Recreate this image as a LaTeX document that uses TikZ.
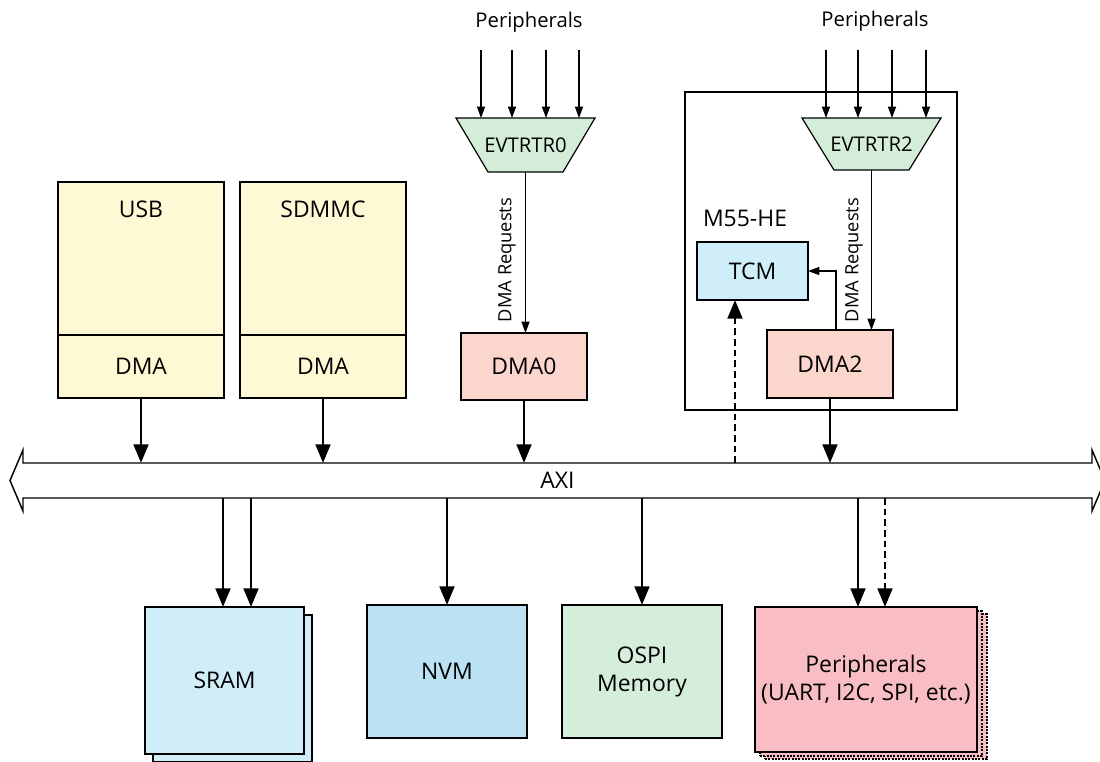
\documentclass[tikz,border=0pt]{standalone}
\usepackage{fontspec}
\setmainfont{Open Sans}
\usetikzlibrary{arrows.meta}
\pgfdeclarelayer{back}
\pgfdeclarelayer{paper}
\pgfsetlayers{paper,back,main}

\definecolor{ctrlyellow}{HTML}{FFF8D5}
\definecolor{dmapink}{HTML}{FAD6CD}
\definecolor{evtgreen}{HTML}{D3EDD9}
\definecolor{tcmblue}{HTML}{D0EEF8}
\definecolor{nvmblue}{HTML}{BAE2F2}
\definecolor{ospigreen}{HTML}{D4EEDB}
\definecolor{perpink}{HTML}{F8BEC4}

\newcommand\bxfont{\fontsize{17.2}{21}\selectfont}
\newcommand\pinfont{\fontsize{15.2}{18}\selectfont}
\newcommand\evfont{\fontsize{15.2}{18}\selectfont}
\newcommand\rqfont{\fontsize{13.7}{16}\selectfont}

\begin{document}
\begin{tikzpicture}[x=0.75pt,y=-0.75pt,
  blk/.style={draw, line width=1.3pt, inner sep=0pt, outer sep=0pt, align=center, font=\bxfont},
  bsize/.style 2 args={minimum width=#1*0.75pt, minimum height=#2*0.75pt},
  txt/.style={inner sep=0pt, outer sep=0pt, align=center, font=\bxfont},
  bigarrow/.style={line width=2.2pt, -{Triangle[length=14pt,width=11pt]}},
  thinarrow/.style={line width=0.9pt, -{Triangle[length=8.5pt,width=6pt]}},
  dasharrow/.style={bigarrow, dash pattern=on 5pt off 3pt},
  trap/.style={line width=0.9pt, fill=evtgreen},
  shadowline/.style={line width=0.8pt, dash pattern=on 1.5pt off 1pt, fill=perpink}
]
\useasboundingbox (0,0) rectangle (1100,761);
\begin{pgfonlayer}{paper}
  \fill[white] (0,0) rectangle (1100,761);
\end{pgfonlayer}

% ---- controllers with their own DMA
\node[blk, bsize={166}{153}, fill=ctrlyellow] (usb) at (141,258.5) {};
\node[blk, bsize={166}{63}, fill=ctrlyellow] (usbdma) at (141,366.5) {DMA};
\node[txt] (usbt) at (141,209) {USB};
\node[blk, bsize={166}{153}, fill=ctrlyellow] (sd) at (323,258.5) {};
\node[blk, bsize={166}{63}, fill=ctrlyellow] (sddma) at (323,366.5) {DMA};
\node[txt] (sdt) at (323,209) {SDMMC};

% ---- event router 0 and DMA0
\node[txt, font=\pinfont] (pin0) at (529,22) {Peripherals};
\node[txt, bsize={139}{54}, font=\evfont] (ev0) at (525.5,145) {EVTRTR0};
\begin{pgfonlayer}{back}
  \draw[trap] (ev0.north west) -- (ev0.north east) -- ([xshift=-24pt]ev0.south east)
    -- ([xshift=24pt]ev0.south west) -- cycle;
\end{pgfonlayer}
\foreach \n/\xx in {a/481,b/512,c/546,d/579}{
  \coordinate (in0\n) at (\xx,50);
  \draw[thinarrow] (in0\n) -- (in0\n |- ev0.north);
}
\node[blk, bsize={126}{67}, fill=dmapink] (dma0) at (524,366.5) {DMA0};
\draw[thinarrow] (ev0.south) -- (ev0.south |- dma0.north);
\node[txt, rotate=90, font=\rqfont] (rq0) at (507,260) {DMA Requests};

% ---- M55-HE subsystem
\node[draw, line width=2.2pt, inner sep=0pt, outer sep=0pt, bsize={272}{318}] (m55) at (821,251) {};
\node[txt] (m55t) at (745,218) {M55-HE};
\node[txt, font=\pinfont] (pin2) at (875,21) {Peripherals};
\node[txt, bsize={139}{52}, font=\evfont] (ev2) at (871.5,144) {EVTRTR2};
\begin{pgfonlayer}{back}
  \draw[trap] (ev2.north west) -- (ev2.north east) -- ([xshift=-24pt]ev2.south east)
    -- ([xshift=24pt]ev2.south west) -- cycle;
\end{pgfonlayer}
\foreach \n/\xx in {a/826,b/858,c/892,d/926}{
  \coordinate (in2\n) at (\xx,50);
  \draw[thinarrow] (in2\n) -- (in2\n |- ev2.north);
}
\node[blk, bsize={111}{58}, fill=tcmblue] (tcm) at (752.5,271) {TCM};
\node[blk, bsize={126}{68}, fill=dmapink] (dma2) at (830,364) {DMA2};
\draw[thinarrow] (ev2.south) -- (ev2.south |- dma2.north);
\node[txt, rotate=90, font=\rqfont] (rq2) at (854,260) {DMA Requests};
\draw[thinarrow] ([xshift=4.5pt]dma2.north) |- (tcm.east);

% ---- AXI bus
\node[txt, bsize={1069}{35}] (bus) at (557.5,480.5) {AXI};
\begin{pgfonlayer}{back}
  \draw[line width=1.1pt, fill=white] (bus.north west) -- (bus.north east) -- ++(0,-13)
    -- ++(13,30.5) -- ++(-13,30.5) -- ++(0,-13) -- (bus.south west) -- ++(0,13)
    -- ++(-13,-30.5) -- ++(13,-30.5) -- cycle;
\end{pgfonlayer}

% ---- masters onto the bus
\draw[bigarrow] (usbdma.south) -- (usbdma.south |- bus.north);
\draw[bigarrow] (sddma.south) -- (sddma.south |- bus.north);
\draw[bigarrow] (dma0.south) -- (dma0.south |- bus.north);
\draw[bigarrow] (dma2.south) -- (dma2.south |- bus.north);
\coordinate (tcmport) at (735,470);
\draw[dasharrow] (tcmport |- bus.north) -- (tcmport |- tcm.south);

% ---- slaves below the bus
\node[blk, bsize={159}{147}, fill=tcmblue] (sramsh) at (232.5,688.5) {};
\node[blk, bsize={159}{147}, fill=tcmblue] (sram) at (224.5,680.5) {SRAM};
\node[blk, bsize={160}{133}, fill=nvmblue] (nvm) at (447,671.5) {NVM};
\node[blk, bsize={160}{133}, fill=ospigreen] (ospi) at (642,671.5) {OSPI\\Memory};
\node[draw, shadowline, bsize={222}{145}] (persh2) at (876,686.5) {};
\node[draw, shadowline, bsize={222}{145}] (persh1) at (871,683.5) {};
\node[blk, bsize={222}{145}, fill=perpink] (per) at (866,679.5) {Peripherals\\(UART, I2C, SPI, etc.)};

\coordinate (sa) at (223,550);
\coordinate (sb) at (251,550);
\coordinate (pa) at (858,550);
\coordinate (pb) at (885,550);
\draw[bigarrow] (sa |- bus.south) -- (sa |- sram.north);
\draw[bigarrow] (sb |- bus.south) -- (sb |- sram.north);
\draw[bigarrow] (nvm.north |- bus.south) -- (nvm.north);
\draw[bigarrow] (ospi.north |- bus.south) -- (ospi.north);
\draw[bigarrow] (pa |- bus.south) -- (pa |- per.north);
\draw[dasharrow] (pb |- bus.south) -- (pb |- per.north);
\end{tikzpicture}
\end{document}
